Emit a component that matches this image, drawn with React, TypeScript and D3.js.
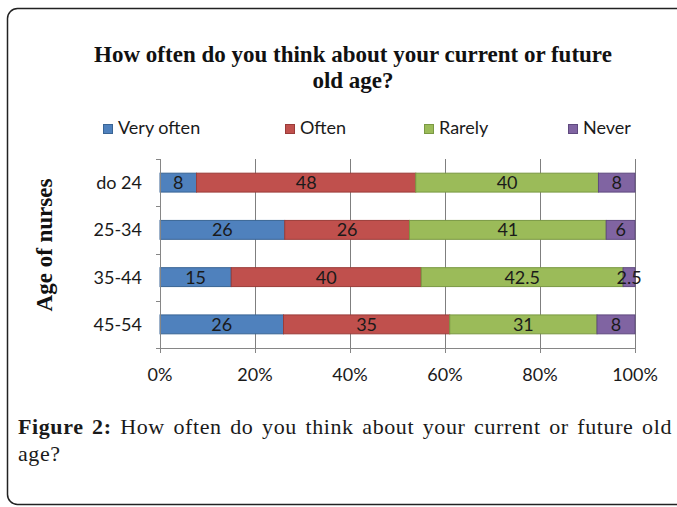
import * as d3 from "d3";
import { useEffect, useRef } from "react";

const ageGroups = ["do 24", "25-34", "35-44", "45-54"];
const seriesNames = ["Very often", "Often", "Rarely", "Never"];
const veryOften = [8, 26, 15, 26];
const often = [48, 26, 40, 35];
const rarely = [40, 41, 42.5, 31];
const never = [8, 6, 2.5, 8];
const percentTicks = [0, 0.2, 0.4, 0.6, 0.8, 1];

const colors = ["#4F81BD", "#C0504D", "#9BBB59", "#8064A2"];
const borders = ["#3A6595", "#9A3C39", "#7A9943", "#5F4A7F"];

const W = 677;
const H = 507;
const sans = "Lato, 'Liberation Sans', sans-serif";
const serif = "'Liberation Serif', 'Times New Roman', serif";

const App = () => {
  const ref = useRef<SVGSVGElement>(null);

  useEffect(() => {
    const svg = d3.select(ref.current);
    svg.selectAll("*").remove();

    // frame
    svg
      .append("rect")
      .attr("x", 7.5)
      .attr("y", 8.5)
      .attr("width", 720)
      .attr("height", 496)
      .attr("rx", 10)
      .attr("fill", "#fff")
      .attr("stroke", "#222")
      .attr("stroke-width", 1.5);

    // title
    const title = svg
      .append("text")
      .attr("text-anchor", "middle")
      .attr("font-family", serif)
      .attr("font-weight", "bold")
      .attr("font-size", 23)
      .attr("fill", "#111");
    title.append("tspan").attr("x", 353).attr("y", 62).text("How often do you think about your current or future");
    title.append("tspan").attr("x", 353).attr("y", 88).text("old age?");

    // legend
    const legendX = [103, 285, 424, 568];
    const legend = svg
      .append("g")
      .selectAll("g")
      .data(seriesNames)
      .join("g")
      .attr("transform", (d, i) => `translate(${legendX[i]},124)`);
    legend
      .append("rect")
      .attr("x", 0.5)
      .attr("y", 0.5)
      .attr("width", 9)
      .attr("height", 9)
      .attr("fill", (d, i) => colors[i])
      .attr("stroke", (d, i) => borders[i]);
    legend
      .append("text")
      .attr("x", 15)
      .attr("y", 10)
      .attr("font-family", sans)
      .attr("font-size", 18)
      .attr("fill", "#1a1a1a")
      .text((d) => d);

    // plot
    const x0 = 160;
    const x1 = 635;
    const y0 = 159;
    const y1 = 348;

    const rows = ageGroups.map((g, i) => ({
      group: g,
      "Very often": veryOften[i],
      Often: often[i],
      Rarely: rarely[i],
      Never: never[i],
    }));
    const stack = d3.stack<any>().keys(seriesNames).offset(d3.stackOffsetExpand);
    const layers = stack(rows);

    const xScale = d3.scaleLinear().domain([0, 1]).range([x0, x1]);
    const yScale = d3
      .scaleBand()
      .domain(ageGroups)
      .range([y0, y1])
      .paddingInner(0.6)
      .paddingOuter(0.3);
    const step = yScale.step();

    // gridlines
    svg
      .append("g")
      .selectAll("line")
      .data(percentTicks.slice(1))
      .join("line")
      .attr("x1", (d) => Math.round(xScale(d)) + 0.5)
      .attr("x2", (d) => Math.round(xScale(d)) + 0.5)
      .attr("y1", y0)
      .attr("y2", y1)
      .attr("stroke", "#7f7f7f")
      .attr("stroke-width", 1);

    // bars
    const layerG = svg
      .append("g")
      .selectAll("g")
      .data(layers)
      .join("g")
      .attr("fill", (d, i) => colors[i])
      .attr("stroke", (d, i) => borders[i]);
    layerG
      .selectAll("rect")
      .data((d) => d)
      .join("rect")
      .attr("x", (d) => xScale(d[0]))
      .attr("y", (d: any) => yScale(d.data.group)!)
      .attr("width", (d) => xScale(d[1]) - xScale(d[0]))
      .attr("height", yScale.bandwidth())
      .attr("stroke-width", 1);

    // data labels
    const labelG = svg
      .append("g")
      .attr("font-family", sans)
      .attr("font-size", 18)
      .attr("fill", "#1a1a1a")
      .attr("text-anchor", "middle");
    layers.forEach((layer) => {
      layer.forEach((d: any) => {
        labelG
          .append("text")
          .attr("x", (xScale(d[0]) + xScale(d[1])) / 2)
          .attr("y", yScale(d.data.group)! + yScale.bandwidth() / 2)
          .attr("dy", "0.36em")
          .text(d3.format("")(d.data[layer.key]));
      });
    });

    // y axis
    const axisColor = "#868686";
    svg
      .append("line")
      .attr("x1", x0 + 0.5)
      .attr("x2", x0 + 0.5)
      .attr("y1", y0)
      .attr("y2", y1)
      .attr("stroke", axisColor);
    svg
      .append("g")
      .selectAll("line")
      .data(d3.range(ageGroups.length + 1))
      .join("line")
      .attr("x1", x0 - 4)
      .attr("x2", x0)
      .attr("y1", (i) => Math.round(y0 + i * step) + 0.5)
      .attr("y2", (i) => Math.round(y0 + i * step) + 0.5)
      .attr("stroke", axisColor);
    svg
      .append("g")
      .selectAll("text")
      .data(ageGroups)
      .join("text")
      .attr("x", 142)
      .attr("y", (d) => yScale(d)! + yScale.bandwidth() / 2)
      .attr("dy", "0.36em")
      .attr("text-anchor", "end")
      .attr("font-family", sans)
      .attr("font-size", 18)
      .attr("fill", "#1a1a1a")
      .text((d) => d);

    // x axis
    svg
      .append("line")
      .attr("x1", x0)
      .attr("x2", x1)
      .attr("y1", y1 + 0.5)
      .attr("y2", y1 + 0.5)
      .attr("stroke", axisColor);
    svg
      .append("g")
      .selectAll("line")
      .data(percentTicks)
      .join("line")
      .attr("x1", (d) => Math.round(xScale(d)) + 0.5)
      .attr("x2", (d) => Math.round(xScale(d)) + 0.5)
      .attr("y1", y1)
      .attr("y2", y1 + 5)
      .attr("stroke", axisColor);
    svg
      .append("g")
      .selectAll("text")
      .data(percentTicks)
      .join("text")
      .attr("x", (d) => xScale(d))
      .attr("y", 381)
      .attr("text-anchor", "middle")
      .attr("font-family", sans)
      .attr("font-size", 18)
      .attr("fill", "#1a1a1a")
      .text(d3.format(".0%"));

    // y axis title
    svg
      .append("text")
      .attr("transform", "translate(52,245) rotate(-90)")
      .attr("text-anchor", "middle")
      .attr("font-family", serif)
      .attr("font-weight", "bold")
      .attr("font-size", 23)
      .attr("fill", "#111")
      .text("Age of nurses");

    // caption, justified on the first line
    const caption = svg
      .append("text")
      .attr("font-family", serif)
      .attr("font-size", 22)
      .attr("letter-spacing", 0.6)
      .attr("fill", "#1a1a1a");
    const line1 = caption.append("tspan").attr("x", 18).attr("y", 434);
    line1.append("tspan").attr("font-weight", "bold").text("Figure 2:");
    const rest = line1.append("tspan").text(" How often do you think about your current or future old");
    caption.append("tspan").attr("x", 18).attr("y", 461).text("age?");

    const node = caption.node() as SVGTextElement;
    const bbox = node.getBBox();
    const words = 12;
    const extra = (672 - 18 - bbox.width) / words;
    if (extra > 0) {
      line1.attr("word-spacing", extra);
      rest.attr("word-spacing", extra);
    }
  }, []);

  return (
    <svg
      ref={ref}
      width={W}
      height={H}
      style={{ position: "absolute", left: 0, top: 0, background: "#fff" }}
    />
  );
};

export default App;
